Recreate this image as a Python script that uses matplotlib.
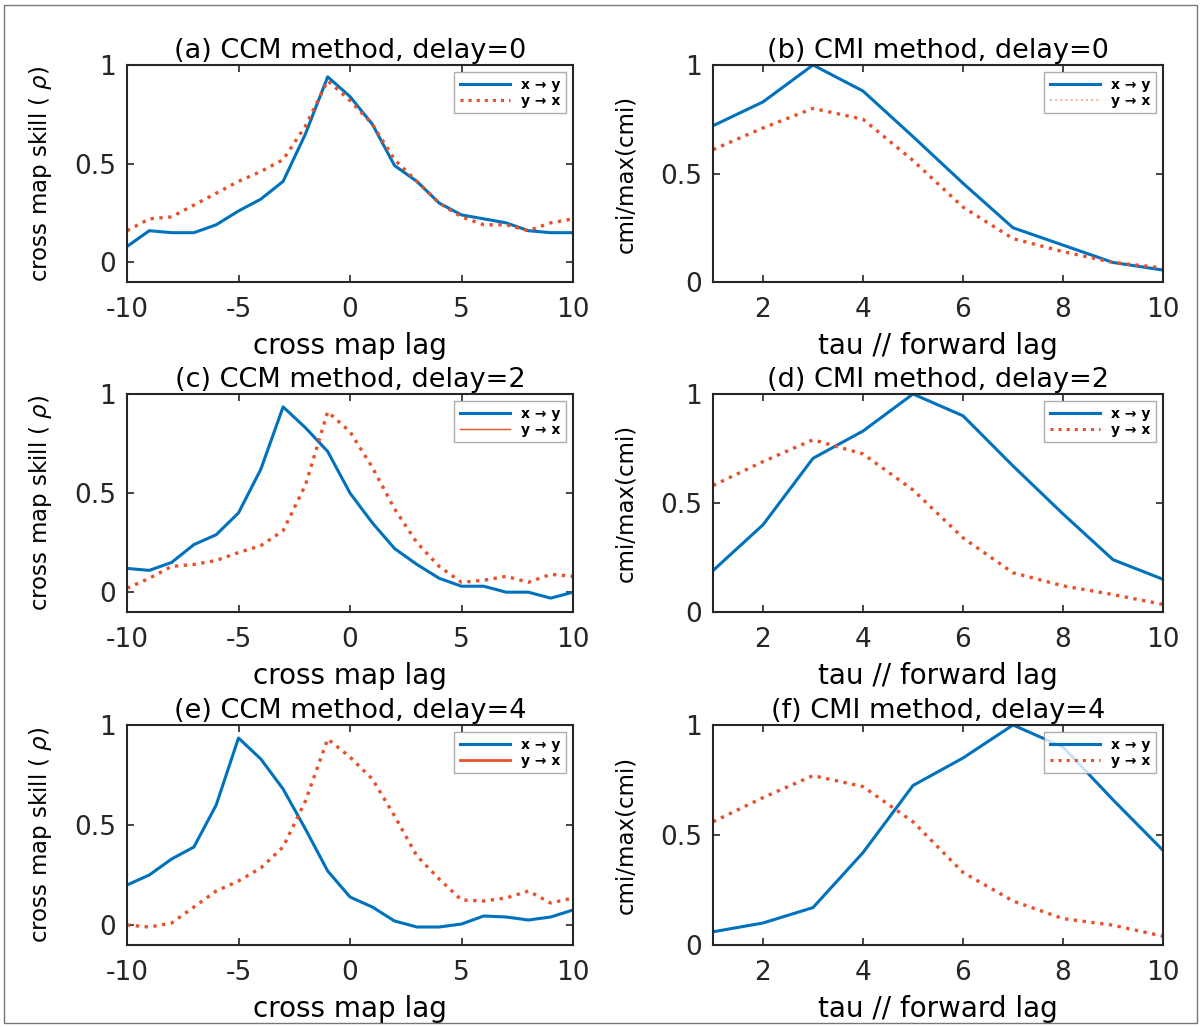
import matplotlib
matplotlib.use("Agg")
import matplotlib.pyplot as plt
from matplotlib.lines import Line2D
from matplotlib.patches import Rectangle

plt.rcParams['font.family'] = ['DejaVu Sans']
plt.rcParams['mathtext.fontset'] = 'dejavusans'

lags = list(range(-10, 11))
taus = list(range(1, 11))

# (a) CCM, delay=0
ccm0_xy = [0.08, 0.16, 0.15, 0.15, 0.19, 0.26, 0.32, 0.41, 0.65, 0.94, 0.84, 0.70, 0.49, 0.41, 0.30, 0.24, 0.22, 0.20, 0.16, 0.15, 0.15]
ccm0_yx = [0.16, 0.22, 0.23, 0.29, 0.35, 0.41, 0.46, 0.52, 0.69, 0.92, 0.82, 0.70, 0.52, 0.41, 0.30, 0.23, 0.19, 0.19, 0.16, 0.20, 0.22]
# (b) CMI, delay=0
cmi0_xy = [0.72, 0.83, 1.00, 0.88, 0.67, 0.455, 0.25, 0.17, 0.09, 0.055]
cmi0_yx = [0.61, 0.71, 0.80, 0.75, 0.56, 0.345, 0.20, 0.14, 0.09, 0.065]
# (c) CCM, delay=2
ccm2_xy = [0.12, 0.11, 0.15, 0.24, 0.29, 0.40, 0.62, 0.935, 0.83, 0.71, 0.50, 0.35, 0.22, 0.14, 0.07, 0.03, 0.03, 0.00, 0.00, -0.03, 0.00]
ccm2_yx = [0.02, 0.07, 0.13, 0.14, 0.16, 0.20, 0.235, 0.31, 0.54, 0.91, 0.81, 0.63, 0.42, 0.25, 0.13, 0.05, 0.06, 0.08, 0.05, 0.09, 0.08]
# (d) CMI, delay=2
cmi2_xy = [0.19, 0.40, 0.705, 0.83, 1.00, 0.90, 0.67, 0.45, 0.24, 0.15]
cmi2_yx = [0.58, 0.69, 0.79, 0.725, 0.56, 0.34, 0.18, 0.12, 0.08, 0.035]
# (e) CCM, delay=4
ccm4_xy = [0.20, 0.25, 0.33, 0.39, 0.60, 0.935, 0.83, 0.68, 0.48, 0.27, 0.14, 0.09, 0.02, -0.01, -0.01, 0.005, 0.045, 0.04, 0.025, 0.04, 0.075]
ccm4_yx = [0.00, -0.01, 0.01, 0.09, 0.17, 0.22, 0.285, 0.39, 0.62, 0.93, 0.84, 0.73, 0.545, 0.345, 0.23, 0.125, 0.12, 0.135, 0.17, 0.11, 0.135]
# (f) CMI, delay=4
cmi4_xy = [0.06, 0.10, 0.17, 0.42, 0.725, 0.85, 1.00, 0.90, 0.66, 0.43]
cmi4_yx = [0.56, 0.67, 0.77, 0.72, 0.56, 0.33, 0.20, 0.12, 0.09, 0.04]

titles = ["(a) CCM method, delay=0", "(b) CMI method, delay=0",
          "(c) CCM method, delay=2", "(d) CMI method, delay=2",
          "(e) CCM method, delay=4", "(f) CMI method, delay=4"]

BLUE = "#0072BD"
RED = "#E8502A"
W, H = 1201, 1027

fig = plt.figure(figsize=(W / 100, H / 100), dpi=100)
fig.patches.append(Rectangle((0.003, 0.004), 0.994, 0.991, transform=fig.transFigure,
                             fill=False, edgecolor="#777777", linewidth=1.0))


def px_axes(left, top, right, bottom):
    return fig.add_axes([left / W, 1 - bottom / H, (right - left) / W, (bottom - top) / H])


def style(ax):
    for s in ax.spines.values():
        s.set_color("#262626")
        s.set_linewidth(1.5)
    ax.tick_params(direction="in", top=True, right=True, length=5, width=1.2,
                   labelsize=19, pad=11, colors="#262626")
    ax.tick_params(axis="y", pad=8)


# legend handle styles per panel (red entry varies in the original)
red_handles = [
    dict(color=RED, linestyle=":", linewidth=2.2),
    dict(color=RED, linestyle=":", linewidth=1.4, alpha=0.45),
    dict(color=RED, linestyle="-", linewidth=1.0),
    dict(color=RED, linestyle=":", linewidth=2.2),
    dict(color=RED, linestyle="-", linewidth=2.0),
    dict(color=RED, linestyle=":", linewidth=2.2),
]

rows = [(65, 282), (394, 612), (725, 945)]
ccm_data = [(ccm0_xy, ccm0_yx), (ccm2_xy, ccm2_yx), (ccm4_xy, ccm4_yx)]
cmi_data = [(cmi0_xy, cmi0_yx), (cmi2_xy, cmi2_yx), (cmi4_xy, cmi4_yx)]
leg_font = dict(size=10, weight="bold")

for r, (top, bottom) in enumerate(rows):
    # CCM panel
    ax = px_axes(127, top, 573, bottom)
    xy, yx = ccm_data[r]
    ax.plot(lags, xy, color=BLUE, linewidth=2.2)
    ax.plot(lags, yx, color=RED, linestyle=":", linewidth=2.4)
    ax.set_xlim(-10, 10)
    ax.set_ylim(-0.1, 1.0)
    ax.set_xticks([-10, -5, 0, 5, 10])
    ax.set_yticks([0, 0.5, 1])
    ax.set_yticklabels(["0", "0.5", "1"])
    ax.set_xticklabels(["-10", "-5", "0", "5", "10"])
    ax.set_xlabel("cross map lag", fontsize=20, labelpad=6)
    ax.set_ylabel("cross map skill ( $\\rho$)", fontsize=16.5, labelpad=14)
    ax.set_title(titles[2 * r], fontsize=19.5, pad=5)
    style(ax)
    hs = [Line2D([], [], color=BLUE, linewidth=2.2),
          Line2D([], [], **red_handles[2 * r])]
    ax.legend(hs, ["x → y", "y → x"], loc="upper right", prop=leg_font, frameon=True,
              fancybox=False, edgecolor="#999999", handlelength=3.6,
              borderaxespad=0.5, labelspacing=0.15)

    # CMI panel
    ax = px_axes(713, top, 1163, bottom)
    xy, yx = cmi_data[r]
    ax.plot(taus, xy, color=BLUE, linewidth=2.2)
    ax.plot(taus, yx, color=RED, linestyle=":", linewidth=2.4)
    ax.set_xlim(1, 10)
    ax.set_ylim(0, 1)
    ax.set_xticks([2, 4, 6, 8, 10])
    ax.set_yticks([0, 0.5, 1])
    ax.set_yticklabels(["0", "0.5", "1"])
    ax.set_xlabel("tau // forward lag", fontsize=20, labelpad=6)
    ax.set_ylabel("cmi/max(cmi)", fontsize=16.5, labelpad=16)
    ax.set_title(titles[2 * r + 1], fontsize=19.5, pad=5)
    style(ax)
    hs = [Line2D([], [], color=BLUE, linewidth=2.2),
          Line2D([], [], **red_handles[2 * r + 1])]
    ax.legend(hs, ["x → y", "y → x"], loc="upper right", prop=leg_font, frameon=True,
              fancybox=False, edgecolor="#999999", handlelength=3.6,
              borderaxespad=0.5, labelspacing=0.15)

fig.savefig("out.png", dpi=100)
